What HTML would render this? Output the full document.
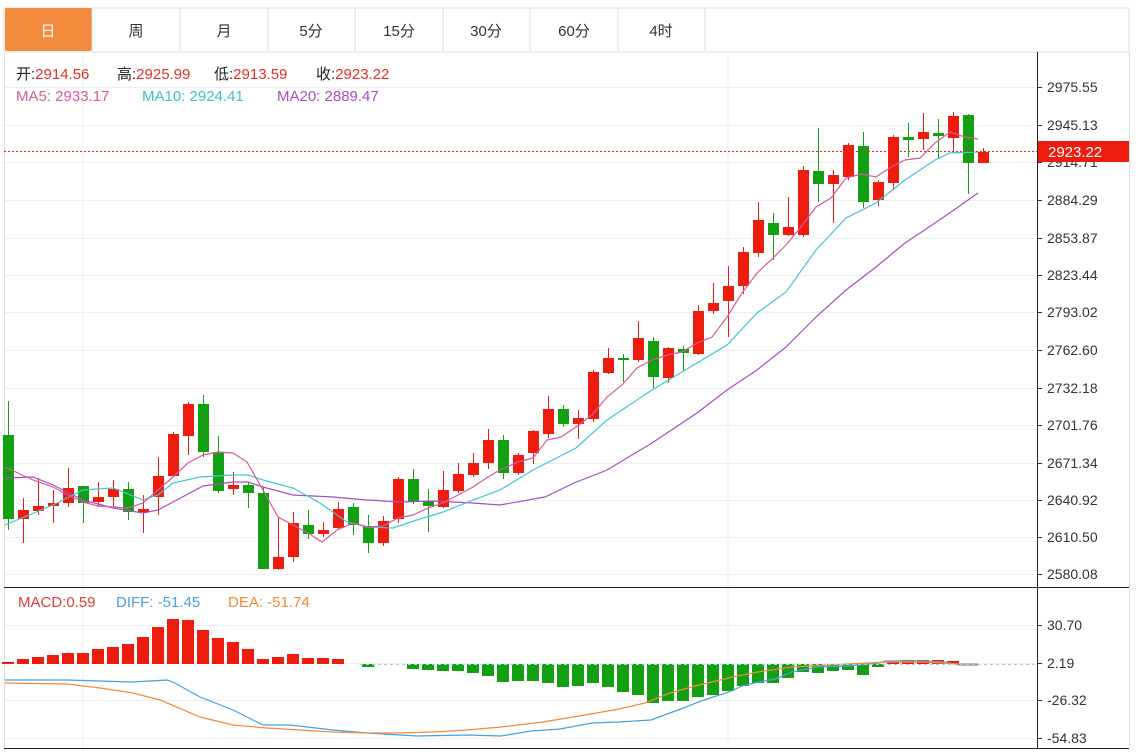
<!DOCTYPE html>
<html><head><meta charset="utf-8"><style>
body{margin:0;background:#fff;width:1147px;height:754px;overflow:hidden;font-family:"Liberation Sans","Noto Sans CJK SC",sans-serif;}
svg{position:absolute;left:0;top:0}
</style></head><body>
<svg id="s" width="1147" height="754" xmlns="http://www.w3.org/2000/svg" font-family="Liberation Sans, Noto Sans CJK SC, sans-serif">
<rect x="4" y="8" width="1125" height="44" fill="#fff" stroke="#ddd"/>
<rect x="5" y="8" width="87" height="43" fill="#f28c3c" rx="2"/>
<g stroke="#ddd"><line x1="180" y1="8" x2="180" y2="51"/><line x1="268" y1="8" x2="268" y2="51"/><line x1="355" y1="8" x2="355" y2="51"/><line x1="443" y1="8" x2="443" y2="51"/><line x1="530" y1="8" x2="530" y2="51"/><line x1="618" y1="8" x2="618" y2="51"/><line x1="705" y1="8" x2="705" y2="51"/><line x1="92" y1="8" x2="92" y2="51"/></g>
<g font-size="15" text-anchor="middle" fill="#333"><text x="48" y="36" fill="#fff">日</text><text x="136" y="36">周</text><text x="224" y="36">月</text><text x="311" y="36">5分</text><text x="399" y="36">15分</text><text x="486" y="36">30分</text><text x="574" y="36">60分</text><text x="661" y="36">4时</text></g>
<g id="grid" stroke="#eceef0" stroke-width="1"></g>
<line x1="83" y1="52" x2="83" y2="748" stroke="#eceef0"/><line x1="728" y1="52" x2="728" y2="748" stroke="#eceef0"/>
<line x1="4.5" y1="52" x2="4.5" y2="748" stroke="#ddd"/>
<line x1="1129.5" y1="52" x2="1129.5" y2="748" stroke="#ddd"/>
<line x1="1037.5" y1="52" x2="1037.5" y2="748" stroke="#222"/>
<line x1="4" y1="587.5" x2="1129" y2="587.5" stroke="#222"/>
<line x1="4" y1="748.5" x2="1129" y2="748.5" stroke="#222"/>
<g id="c"></g>
<line x1="4" y1="151.5" x2="1037" y2="151.5" stroke="#e8261b" stroke-dasharray="2,2"/>
<line x1="360" y1="664.5" x2="1037" y2="664.5" stroke="#a9cde8" stroke-dasharray="3,3"/>
<g id="ax" font-size="14" fill="#333"></g>
<rect x="1038" y="141" width="91" height="21" fill="#ee1c0e"/>
<text x="1048" y="157" font-size="15" fill="#fff">2923.22</text>
<text y="79" font-size="15" fill="#222"><tspan x="16">开:</tspan><tspan fill="#e0302a">2914.56</tspan><tspan x="117">高:</tspan><tspan fill="#e0302a">2925.99</tspan><tspan x="214">低:</tspan><tspan fill="#e0302a">2913.59</tspan><tspan x="316">收:</tspan><tspan fill="#e0302a">2923.22</tspan></text>
<text y="101" font-size="15" fill="#d9599a"><tspan x="16">MA5: 2933.17</tspan><tspan x="142" fill="#3fbfcc">MA10: 2924.41</tspan><tspan x="277" fill="#a64fbf">MA20: 2889.47</tspan></text>
<text y="607" font-size="15" fill="#e03c3c"><tspan x="18">MACD:0.59</tspan><tspan x="116" fill="#4a9fdd">DIFF: -51.45</tspan><tspan x="228" fill="#f08a3c">DEA: -51.74</tspan></text>
</svg>
<script>
var NS="http://www.w3.org/2000/svg";
function el(p,t,a){var e=document.createElementNS(NS,t);for(var k in a)e.setAttribute(k,a[k]);p.appendChild(e);return e;}
var g=document.getElementById('grid'),ax=document.getElementById('ax'),c=document.getElementById('c');
var pl=[["2975.55",87],["2945.13",125],["2914.71",162],["2884.29",200],["2853.87",238],["2823.44",275],["2793.02",312],["2762.60",350],["2732.18",388],["2701.76",425],["2671.34",463],["2640.92",500],["2610.50",537],["2580.08",574],["30.70",625],["2.19",663],["-26.32",700],["-54.83",738]];
pl.forEach(function(p){el(g,'line',{x1:4,x2:1037,y1:p[1]+.5,y2:p[1]+.5});el(ax,'line',{x1:1037,x2:1042,y1:p[1]+.5,y2:p[1]+.5,stroke:'#333'});var t=el(ax,'text',{x:1047,y:p[1]+5});t.textContent=p[0];});
var R="#ee1c0e",G="#12a012";
var d=[[0,435,519,401,530],[1,510,519,498,543],[1,506,511,478,515],[1,503,506,490,523],[1,488,503,468,507],[0,486,503,486,523],[1,497,502,482,507],[1,489,497,480,508],[0,489,512,482,520],[1,509,512,495,533],[1,476,497,457,515],[1,434,476,432,477],[1,404,436,402,455],[0,404,452,395,457],[0,452,491,436,493],[1,485,489,472,495],[0,485,493,482,508],[0,493,569,487,569],[1,557,569,518,570],[1,523,557,512,562],[0,525,534,510,539],[1,530,534,522,537],[1,509,528,502,530],[0,507,525,503,535],[0,526,543,515,553],[1,521,543,516,546],[1,479,519,477,523],[0,479,502,469,504],[0,501,506,489,532],[1,490,507,471,508],[1,474,491,463,493],[1,463,475,453,477],[1,440,463,429,469],[0,440,473,435,479],[1,455,473,453,475],[1,431,453,430,464],[1,409,434,396,438],[0,409,424,405,427],[1,418,424,410,439],[1,372,419,370,422],[1,358,373,348,374],[0,358,360,354,382],[1,338,360,321,362],[0,341,377,337,388],[1,348,378,347,383],[0,349,353,346,371],[1,311,354,305,355],[1,303,311,283,314],[1,286,301,266,337],[1,252,286,247,294],[1,220,253,202,257],[0,223,235,213,260],[1,227,235,197,236],[1,170,235,166,237],[0,171,184,128,202],[1,175,184,170,223],[1,145,177,143,180],[0,146,202,132,208],[1,182,200,180,206],[1,137,183,135,190],[0,137,140,123,157],[1,132,139,113,150],[0,133,136,119,159],[1,116,138,112,153],[0,115,163,114,194],[1,152,163,148,163]];
function X(i){return 8+15*i;}
function pts(a){return a.map(function(p){return p.join(',')}).join(' ');}
var mac=[662,659,657,655,653,653,649,647,644,637,627,619,620,630,638,642,649,659,657,654,658,658,659,664,667,664,664,669,670,671,671,673,676,682,681,681,683,687,686,683,687,692,695,703,701,701,697,695,691,686,683,683,678,672,673,671,670,675,667,661,660,660,660,661,664,664];
mac.forEach(function(v,i){if(Math.abs(v-664)<1)return;var up=v<664;el(c,'rect',{x:X(i)-6,y:up?v:664,width:12,height:Math.abs(v-664)||1,fill:up?R:G});});
el(c,'polyline',{points:pts([[5,680],[67,680],[133,682],[167,680],[173,682],[200,697],[233,710],[263,725],[290,725],[333,730],[367,733],[400,735],[417,736],[467,735],[501,736],[531,731],[560,729],[592,723],[619,722],[651,720],[678,710],[704,700],[729,692],[742,686],[754,683],[775,679],[792,672],[818,667],[847,666],[879,663],[885,661],[923,661],[944,662],[959,665],[978,665]]),fill:'none',stroke:'#4a9fdd','stroke-width':1.2});
el(c,'polyline',{points:pts([[5,683],[67,684],[100,688],[133,693],[160,700],[200,717],[233,725],[267,728],[333,732],[367,733],[400,733],[433,732],[467,730],[501,727],[543,722],[585,715],[619,709],[645,703],[670,693],[699,685],[733,677],[758,672],[792,667],[830,665],[868,663],[885,662],[923,662],[959,664],[978,664]]),fill:'none',stroke:'#f08a3c','stroke-width':1.2});
d.forEach(function(k,i){var x=X(i),col=k[0]?R:G;el(c,'line',{x1:x+.5,x2:x+.5,y1:k[3],y2:k[4],stroke:col});el(c,'rect',{x:x-5,y:k[1],width:11,height:Math.max(1,k[2]-k[1]),fill:col});});
el(c,'polyline',{points:pts([[5,478],[33,477],[53,485],[83,500],[113,508],[143,513],[158,510],[173,502],[203,486],[233,482],[248,482],[263,487],[293,495],[333,497],[367,500],[400,502],[433,501],[473,503],[500,505],[545,497],[574,483],[607,470],[652,443],[697,413],[727,390],[757,370],[786,347],[816,317],[846,290],[876,267],[905,243],[935,223],[951,212],[978,193]]),fill:'none',stroke:'#a64fbf','stroke-width':1.2});
el(c,'polyline',{points:pts([[5,525],[53,505],[83,490],[113,488],[143,500],[158,495],[173,483],[200,477],[233,475],[248,475],[263,480],[293,488],[320,503],[347,522],[367,527],[393,528],[417,520],[443,512],[473,500],[500,490],[533,470],[576,448],[607,420],[652,390],[697,363],[727,345],[757,313],[786,292],[816,250],[846,218],[876,203],[905,180],[935,160],[950,153],[978,152]]),fill:'none',stroke:'#43c5d3','stroke-width':1.2});
el(c,'polyline',{points:pts([[5,467],[33,480],[53,487],[68,495],[83,502],[98,506],[113,507],[128,508],[143,503],[158,490],[173,477],[188,463],[203,455],[218,452],[233,453],[247,462],[263,490],[278,517],[293,525],[308,533],[322,542],[337,530],[353,523],[368,527],[383,526],[398,518],[413,515],[428,508],[443,503],[458,495],[473,487],[488,477],[500,470],[518,462],[533,458],[547,440],[561,437],[576,427],[592,415],[607,397],[622,385],[637,368],[652,360],[667,355],[682,352],[697,343],[712,337],[727,317],[742,293],[757,273],[771,260],[786,245],[801,227],[816,207],[831,198],[846,178],[861,174],[876,177],[891,167],[905,160],[920,158],[935,143],[950,132],[965,137],[978,139]]),fill:'none',stroke:'#d9599a','stroke-width':1.2});
</script>
</body></html>
